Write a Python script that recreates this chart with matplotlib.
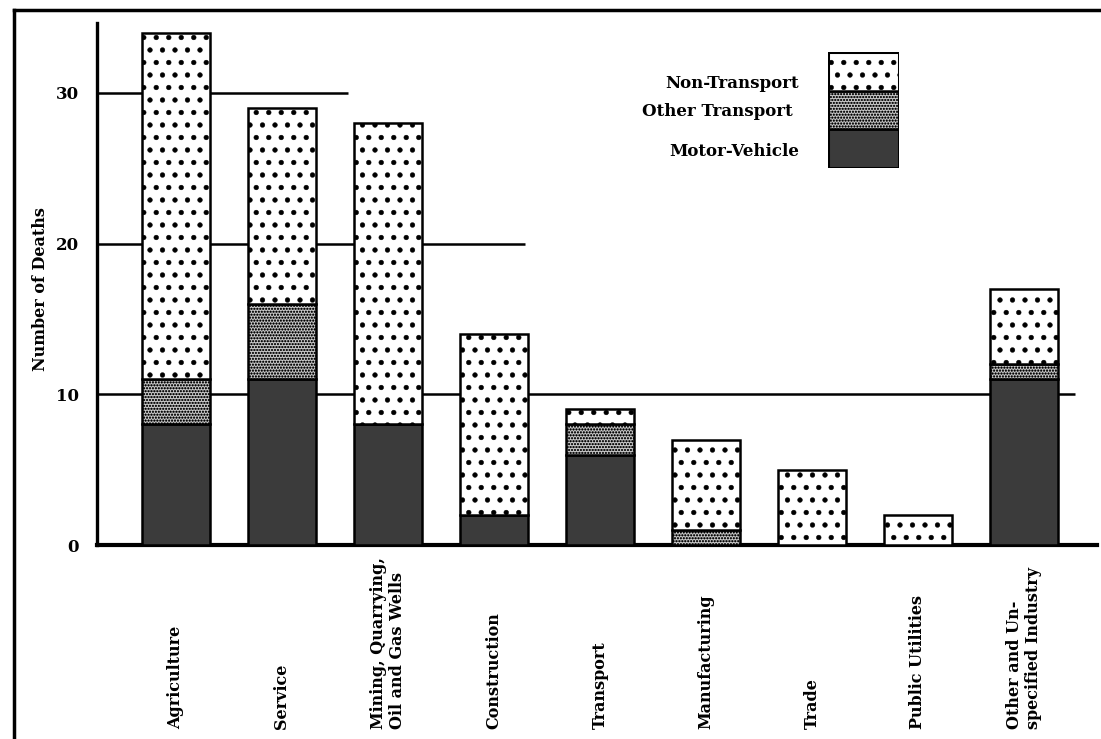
import numpy as np
import matplotlib
matplotlib.use("Agg")
import matplotlib.pyplot as plt
import matplotlib.hatch as mhatch
from matplotlib.path import Path
from matplotlib.lines import Line2D
from matplotlib.patches import Rectangle

# ---------------- data ----------------
categories = ["Agriculture", "Service", "Mining, Quarrying,\nOil and Gas Wells",
              "Construction", "Transport", "Manufacturing", "Trade",
              "Public Utilities", "Other and Un-\nspecified Industry"]
motor_vehicle = [8, 11, 8, 2, 6, 0, 0, 0, 11]
other_transport = [3, 5, 0, 0, 2, 1, 0, 0, 1]
non_transport = [23, 13, 20, 12, 1, 6, 5, 2, 5]
series_names = ["Non-Transport", "Other Transport", "Motor-Vehicle"]
y_ticks = [0, 10, 20, 30]
# horizontal rules: value level and the category position where the rule stops
rule_levels = [10, 20, 30]
rule_end = [8.48, 3.29, 1.62]


# ---------------- custom textures ----------------
class BigDots(mhatch.Shapes):
    filled = True
    size = 0.19

    def __init__(self, hatch, density):
        self.num_rows = hatch.count('.') * 8
        self.shape_vertices = Path.unit_circle().vertices
        self.shape_codes = Path.unit_circle().codes
        super().__init__(hatch, density)


class FineDots(mhatch.Shapes):
    filled = True
    size = 0.3

    def __init__(self, hatch, density):
        self.num_rows = hatch.count('o') * 34
        self.shape_vertices = Path.unit_circle().vertices
        self.shape_codes = Path.unit_circle().codes
        super().__init__(hatch, density)


mhatch._hatch_types = [t for t in mhatch._hatch_types
                       if t not in (mhatch.SmallCircles, mhatch.SmallFilledCircles)] + [BigDots, FineDots]

plt.rcParams['hatch.linewidth'] = 0.3
plt.rcParams['font.family'] = ['DejaVu Serif']
plt.rcParams['font.weight'] = 'bold'

W, H = 1101, 739
fig = plt.figure(figsize=(W / 100, H / 100), dpi=100, facecolor='white')


def fx(px):
    return px / W


def fy(py):
    return 1 - py / H


ax_l, ax_r, ax_t, ax_b = 97, 1097, 23, 545
ax = fig.add_axes([fx(ax_l), fy(ax_b), fx(ax_r - ax_l), (ax_b - ax_t) / H])
ax.set_facecolor('none')

x = np.arange(len(categories))
mv = np.array(motor_vehicle)
ot = np.array(other_transport)
nt = np.array(non_transport)
width = 0.64

styles = {
    "Motor-Vehicle": dict(facecolor='#3b3b3b', hatch=None),
    "Other Transport": dict(facecolor='#cccccc', hatch='o'),
    "Non-Transport": dict(facecolor='white', hatch='.'),
}

ax.bar(x, mv, width, edgecolor='black', linewidth=1.8, zorder=3, **styles["Motor-Vehicle"])
ax.bar(x, ot, width, bottom=mv, edgecolor='black', linewidth=1.8, zorder=3, **styles["Other Transport"])
ax.bar(x, nt, width, bottom=mv + ot, edgecolor='black', linewidth=1.8, zorder=3, **styles["Non-Transport"])

xl = -0.745
ax.set_xlim(xl, 8.69)
ax.set_ylim(0, 34.64)

for lvl, end in zip(rule_levels, rule_end):
    ax.hlines(lvl, xl, end, color='black', linewidth=1.8, zorder=1)

for s in ['top', 'right']:
    ax.spines[s].set_visible(False)
ax.spines['left'].set_linewidth(2.4)
ax.spines['bottom'].set_linewidth(3.0)
ax.set_yticks(y_ticks)
ax.set_yticklabels([str(v) for v in y_ticks], fontsize=12, fontweight='bold')
ax.tick_params(axis='y', length=0, pad=13)
ax.set_xticks([])

label_bottom = -(729 - ax_b) / (ax_b - ax_t)
trans = matplotlib.transforms.blended_transform_factory(ax.transData, ax.transAxes)
for xi, cat in zip(x, categories):
    ax.text(xi, label_bottom, cat, rotation=90, ha='center', va='bottom',
            multialignment='left', fontsize=11.5, fontweight='bold',
            linespacing=1.2, transform=trans, clip_on=False)

fig.text(fx(41), fy(289), "Number of Deaths", rotation=90, ha='center', va='center',
         fontsize=11.5, fontweight='bold')

# legend (drawn box)
lg_l, lg_r, lg_t, lg_b = 828, 899, 52, 168
lax = fig.add_axes([fx(lg_l), fy(lg_b), fx(lg_r - lg_l), (lg_b - lg_t) / H])
lax.set_xlim(0, 1)
lax.set_ylim(0, 3)
lax.axis('off')
for i, name in enumerate(reversed(series_names)):
    lax.add_patch(Rectangle((0, i), 1, 1, edgecolor='black', linewidth=1.8, **styles[name]))
lax.add_patch(Rectangle((0, 0), 1, 3, fill=False, edgecolor='black', linewidth=2.2))

label_y = [83, 112, 152]
label_x = [799, 793, 799]
for name, lx, ly in zip(series_names, label_x, label_y):
    fig.text(fx(lx), fy(ly), name, ha='right', va='center', fontsize=12, fontweight='bold')

# scanned page frame
fig.add_artist(Line2D([fx(14), fx(14)], [0, fy(10)], transform=fig.transFigure, color='black', linewidth=2.5))
fig.add_artist(Line2D([fx(14), 1], [fy(10), fy(10)], transform=fig.transFigure, color='black', linewidth=2.5))

fig.savefig("out.png", dpi=100, facecolor='white')
